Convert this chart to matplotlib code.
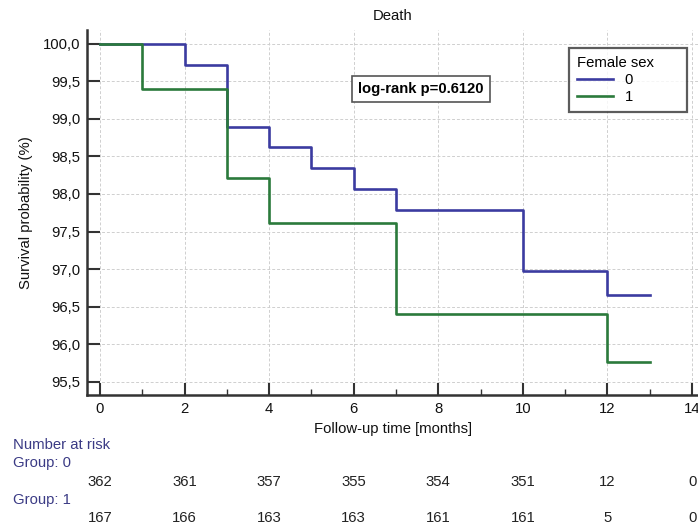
import matplotlib.pyplot as plt
import matplotlib.transforms as mtransforms
from matplotlib.ticker import FuncFormatter, MultipleLocator
import numpy as np

plt.rcParams['font.family'] = ['Liberation Sans', 'DejaVu Sans']

# ---- data ----
time_0 = [0, 2, 3, 4, 5, 6, 7, 10, 12, 13]
surv_0 = [100.0, 99.72, 98.89, 98.62, 98.34, 98.07, 97.79, 96.97, 96.66, 96.66]
time_1 = [0, 1, 3, 4, 7, 12, 13]
surv_1 = [100.0, 99.40, 98.21, 97.61, 96.40, 95.76, 95.76]
risk_times = [0, 2, 4, 6, 8, 10, 12, 14]
risk_0 = [362, 361, 357, 355, 354, 351, 12, 0]
risk_1 = [167, 166, 163, 163, 161, 161, 5, 0]
groups = ['0', '1']
colors = ['#3b3ba0', '#2b7a3b']

fs = 10.7

fig = plt.figure(figsize=(6.98, 5.27), dpi=100)
ax = fig.add_axes([87/698, 1-395/527, 1-87/698, (395-30)/527])

ax.step(time_0, surv_0, where='post', color=colors[0], lw=1.9, label=groups[0])
ax.step(time_1, surv_1, where='post', color=colors[1], lw=1.9, label=groups[1])

ax.set_xlim(-0.307, 14.14)
ax.set_ylim(95.326, 100.18)
ax.xaxis.set_major_locator(MultipleLocator(2))
ax.xaxis.set_minor_locator(MultipleLocator(1))
ax.yaxis.set_major_locator(MultipleLocator(0.5))
ax.yaxis.set_major_formatter(FuncFormatter(lambda v, p: ('%.1f' % v).replace('.', ',')))
ax.tick_params(axis='both', which='major', direction='in', length=9, width=1.5,
               color='#333333', labelsize=fs, labelcolor='#111111', pad=5)
ax.tick_params(axis='x', which='minor', direction='in', length=4.5, width=1, color='#333333')
ax.grid(True, which='major', color='#cfcfcf', ls=(0, (3, 2)), lw=0.7)
ax.set_axisbelow(True)
for s in ['top', 'right']:
    ax.spines[s].set_visible(False)
for s in ['left', 'bottom']:
    ax.spines[s].set_color('#333333')
    ax.spines[s].set_linewidth(1.8)

ax.set_title('Death', fontsize=fs, color='#111111', pad=7)
ax.set_xlabel('Follow-up time [months]', fontsize=fs, color='#111111', labelpad=4)
ax.set_ylabel('Survival probability (%)', fontsize=fs, color='#111111', labelpad=7)

# log-rank box
ax.text(0.547, 0.838, 'log-rank p=0.6120', transform=ax.transAxes, ha='center', va='center',
        fontsize=fs, fontweight='bold',
        bbox=dict(boxstyle='square,pad=0.42', fc='white', ec='#555555', lw=1.2))

leg = ax.legend(title='Female sex      ', loc='upper right', bbox_to_anchor=(0.982, 0.951),
                borderaxespad=0, frameon=True, fancybox=False, fontsize=fs, title_fontsize=fs,
                handlelength=2.4, borderpad=0.55, labelspacing=0.2, handletextpad=0.8)
leg._legend_box.align = 'left'
leg.get_frame().set_edgecolor('#333333')
leg.get_frame().set_linewidth(1.6)

# number at risk table
navy = '#3b3b85'
fig.text(13/698, 1-445/527, 'Number at risk', color=navy, fontsize=fs, va='center')
fig.text(13/698, 1-463/527, 'Group: 0', color=navy, fontsize=fs, va='center')
fig.text(13/698, 1-500/527, 'Group: 1', color=navy, fontsize=fs, va='center')
trans = mtransforms.blended_transform_factory(ax.transData, fig.transFigure)
for t, n0, n1 in zip(risk_times, risk_0, risk_1):
    ax.text(t, 1-482/527, str(n0), transform=trans, ha='center', va='center',
            fontsize=fs, color='#222222', clip_on=False)
    ax.text(t, 1-518/527, str(n1), transform=trans, ha='center', va='center',
            fontsize=fs, color='#222222', clip_on=False)

fig.savefig('out.png', dpi=100)
